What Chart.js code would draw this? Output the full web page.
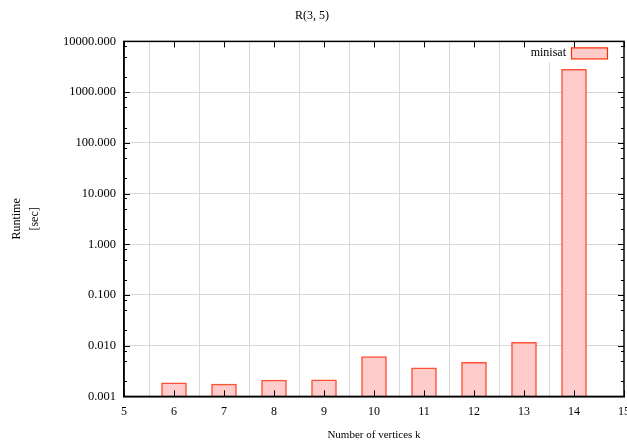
<!DOCTYPE html>
<html>
<head>
<meta charset="utf-8">
<script src="https://cdn.jsdelivr.net/npm/chart.js@4/dist/chart.umd.min.js"></script>
<style>
  html, body { margin: 0; padding: 0; background: #fff; }
  #wrap { width: 627px; height: 446px; }
</style>
</head>
<body>
<div id="wrap"><canvas id="c"></canvas></div>
<script>
// R(3,5) runtime per vertex count
const vertices = [6, 7, 8, 9, 10, 11, 12, 13, 14];
const runtimes = [0.00185, 0.00174, 0.00209, 0.00212, 0.00609, 0.00365, 0.00471, 0.0116, 2805];
const xTicks = [5, 6, 7, 8, 9, 10, 11, 12, 13, 14, 15];
const decades = [0.001, 0.01, 0.1, 1, 10, 100, 1000, 10000];
const minorSteps = [2, 5, 8];

const serif = "'Liberation Serif', 'DejaVu Serif', serif";
const isDecade = v => Math.abs(Math.log10(v) - Math.round(Math.log10(v))) < 1e-9;

// gnuplot-ish frame: inward ticks on all four sides
const framePlugin = {
  id: 'frame',
  afterDatasetsDraw(chart) {
    const { ctx, chartArea: a } = chart;
    // legend inside plot, top right
    ctx.save();
    ctx.fillStyle = '#fff';
    ctx.fillRect(500, a.top + 1, a.right - 502, 20);
    ctx.font = '12px ' + serif;
    ctx.fillStyle = '#000';
    ctx.textAlign = 'right';
    ctx.textBaseline = 'middle';
    ctx.fillText('minisat', 566, a.top + 11);
    ctx.fillStyle = '#ffcccc';
    ctx.strokeStyle = '#ff2a00';
    ctx.lineWidth = 1.2;
    ctx.fillRect(571, a.top + 6, 36, 11);
    ctx.strokeRect(571.5, a.top + 6.5, 36, 11);
    ctx.restore();
  },
  afterDraw(chart) {
    const { ctx, chartArea: a, scales: { x, y } } = chart;
    ctx.save();
    ctx.strokeStyle = '#000';
    ctx.lineWidth = 1;
    ctx.beginPath();
    xTicks.forEach(v => {
      const px = Math.round(x.getPixelForValue(v)) + 0.5;
      ctx.moveTo(px, a.bottom); ctx.lineTo(px, a.bottom - 6);
      ctx.moveTo(px, a.top); ctx.lineTo(px, a.top + 6);
    });
    decades.forEach((d, i) => {
      const py = Math.round(y.getPixelForValue(d)) + 0.5;
      ctx.moveTo(a.left, py); ctx.lineTo(a.left + 6, py);
      ctx.moveTo(a.right, py); ctx.lineTo(a.right - 6, py);
      if (i < decades.length - 1) {
        minorSteps.forEach(m => {
          const pm = Math.round(y.getPixelForValue(d * m)) + 0.5;
          ctx.moveTo(a.left, pm); ctx.lineTo(a.left + 3, pm);
          ctx.moveTo(a.right, pm); ctx.lineTo(a.right - 3, pm);
        });
      }
    });
    ctx.stroke();
    ctx.lineWidth = 1.5;
    ctx.strokeRect(a.left, a.top, a.right - a.left, a.bottom - a.top);
    ctx.restore();
  }
};

new Chart(document.getElementById('c'), {
  type: 'bar',
  data: {
    datasets: [{
      label: 'minisat',
      data: vertices.map((v, i) => ({ x: v, y: runtimes[i] })),
      backgroundColor: '#ffcccc',
      borderColor: 'rgba(255,50,20,0.85)',
      borderWidth: 1.5,
      barThickness: 25
    }]
  },
  options: {
    responsive: true, maintainAspectRatio: false, animation: false,
    layout: { padding: { left: 0, right: 3, top: 0, bottom: 4 } },
    plugins: {
      legend: { display: false },
      tooltip: { enabled: false },
      title: {
        display: true, text: 'R(3, 5)', color: '#000',
        font: { family: serif, size: 12, weight: 'normal' },
        padding: { top: 9, bottom: 18 }
      }
    },
    scales: {
      x: {
        type: 'linear', min: 5, max: 15, offset: false,
        afterBuildTicks: s => { s.ticks = xTicks.map(v => ({ value: v })); },
        afterFit: s => { s.paddingLeft = 0; s.paddingRight = 0; },
        grid: {
          drawTicks: false,
          color: c => (c.tick && c.tick.value > 5 && c.tick.value < 15) ? '#d8d8d8' : 'rgba(0,0,0,0)'
        },
        border: { color: '#000', width: 1.5 },
        ticks: { color: '#000', padding: 8, font: { family: serif, size: 12 }, maxRotation: 0 },
        title: {
          display: true, text: 'Number of vertices k', color: '#000',
          font: { family: serif, size: 11 }, padding: { top: 2, bottom: 0 }
        }
      },
      y: {
        type: 'logarithmic', min: 0.001, max: 10000,
        afterBuildTicks: s => { s.ticks = decades.map(v => ({ value: v, major: true })); },
        afterFit: s => { s.width = 124; },
        grid: {
          drawTicks: false,
          color: c => (c.tick && c.tick.value > 0.001 && c.tick.value < 10000) ? '#d8d8d8' : 'rgba(0,0,0,0)'
        },
        border: { color: '#000', width: 1.5 },
        ticks: {
          color: '#000', padding: 8, autoSkip: false,
          font: { family: serif, size: 12.5 },
          callback: v => isDecade(v) ? Number(v).toFixed(3) : ''
        },
        title: {
          display: true, text: ['Runtime', '[sec]'], color: '#000',
          font: { family: serif, size: 12, lineHeight: 1.5 }, padding: { top: 8, bottom: 0 }
        }
      }
    }
  },
  plugins: [framePlugin]
});
</script>
</body>
</html>
